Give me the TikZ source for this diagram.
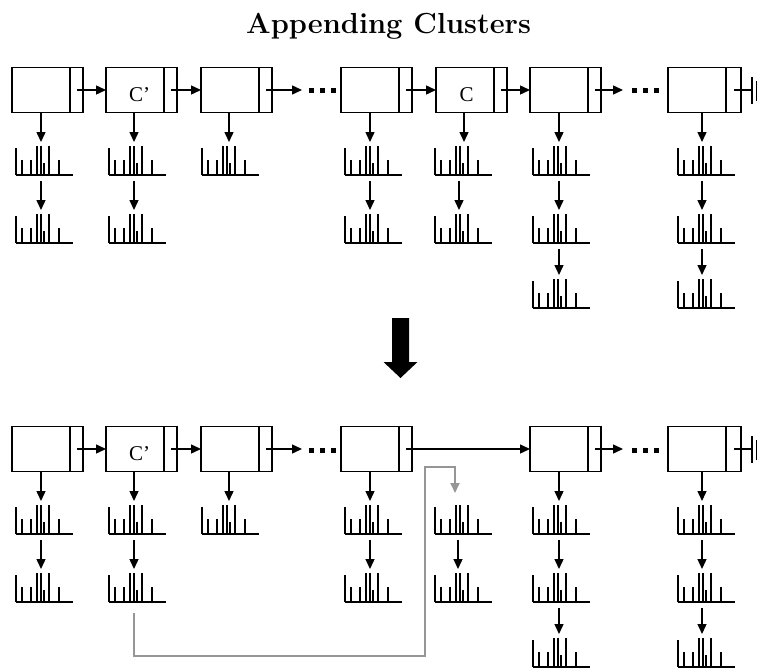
\documentclass[tikz,border=0pt]{standalone}
\usepackage{fontspec}
\newfontfamily\labfont{Liberation Serif}
\usetikzlibrary{arrows.meta,calc}
\definecolor{linkgray}{RGB}{150,150,150}
\tikzset{
  lw/.style={line width=1.4pt},
  lbox/.style={draw, lw, rectangle, inner sep=0pt, outer sep=0pt, minimum height=45pt, anchor=north west},
  specbox/.style={inner sep=0pt, outer sep=0pt, minimum width=57pt, minimum height=29pt, anchor=south west},
  specline/.style={line width=1.4pt},
  arr/.style={lw, -{Triangle[length=10pt,width=9pt]}},
  garr/.style={line width=1.8pt, draw=linkgray, -{Triangle[length=10pt,width=9pt]}},
  lab/.style={font=\labfont\fontsize{21}{21}\selectfont, inner sep=0pt, anchor=base},
  ttl/.style={font=\fontsize{29}{34}\selectfont\bfseries, inner sep=0pt, anchor=base},
}
\newcommand\LBox[5]{% name, x, y, width, compartment
  \node[lbox, minimum width=#4pt] (#1) at (#2,#3) {};
  \draw[lw] ($(#1.north east)+(-#5,0)$) -- ($(#1.south east)+(-#5,0)$);
}
\newcommand\Spec[3]{% name, left x, baseline y
  \node[specbox] (#1) at (#2,#3) {};
  \draw[specline] (#1.south west) -- (#1.south east)
    (#1.south west) -- ++(0,-27)
    ($(#1.south west)+(6,0)$) -- ++(0,-15)
    ($(#1.south west)+(15,0)$) -- ++(0,-15)
    ($(#1.south west)+(21,0)$) -- ++(0,-29)
    ($(#1.south west)+(25,0)$) -- ++(0,-29)
    ($(#1.south west)+(28,0)$) -- ++(0,-12)
    ($(#1.south west)+(33,0)$) -- ++(0,-29)
    ($(#1.south west)+(43,0)$) -- ++(0,-15);
}
\newcommand\BoxArr[3]{% box, spec, column coordinate
  \draw[arr] (#1.south -| #3) -- ($(#2.north -| #3)+(0,-4)$);
}
\newcommand\SpecArr[3]{% spec, spec, column coordinate
  \draw[arr] ($(#1.south -| #3)+(0,6)$) -- ($(#2.north -| #3)+(0,-4)$);
}
\newcommand\Dots[2]{% left x, centre y
  \fill (#1,#2-2.5) rectangle ++(5,5);
  \fill (#1+11,#2-2.5) rectangle ++(5,5);
  \fill (#1+22,#2-2.5) rectangle ++(5,5);
}
\begin{document}
\begin{tikzpicture}[x=1pt, y=-1pt]
\useasboundingbox (0,0) rectangle (758,669);

% column coordinates
\coordinate (a1) at (41,0);
\coordinate (a2) at (134,0);
\coordinate (a3) at (229,0);
\coordinate (a4) at (370,0);
\coordinate (a5) at (464,0);
\coordinate (a5b) at (459,0);
\coordinate (a6) at (559,0);
\coordinate (a7) at (702,0);

\node[ttl] (title) at (388.5,34) {Appending Clusters};

% ---------------- top ----------------
\LBox{t1}{12}{67.5}{71}{13}
\LBox{t2}{106}{67.5}{71}{13}
\LBox{t3}{201}{67.5}{71}{13}
\LBox{t4}{341}{67.5}{71}{13}
\LBox{t5}{436}{67.5}{71}{13}
\LBox{t6}{530}{67.5}{71}{13}
\LBox{t7}{668}{67.5}{73}{15}
\node[lab] (tl2) at (139.5,101) {C’};
\node[lab] (tl5) at (466.5,102) {C};

\draw[arr] ($(t1.east)+(-6,0)$) -- (t2.west);
\draw[arr] ($(t2.east)+(-6,0)$) -- (t3.west);
\coordinate (td1) at ($(t3.east)+(30,0)$);
\draw[arr] ($(t3.east)+(-6,0)$) -- (td1);
\Dots{309}{91}
\draw[arr] ($(t4.east)+(-6,0)$) -- (t5.west);
\draw[arr] ($(t5.east)+(-6,0)$) -- (t6.west);
\coordinate (td2) at ($(t6.east)+(22,0)$);
\draw[arr] ($(t6.east)+(-6,0)$) -- (td2);
\Dots{632}{91}
\coordinate (tg) at ($(t7.east)+(11,0)$);
\draw[lw] ($(t7.east)+(-7,0)$) -- (tg);
\draw[lw] ($(tg)+(0,-13)$) -- ($(tg)+(0,14)$);
\draw[lw] ($(tg)+(4.5,-9)$) -- ($(tg)+(4.5,11)$);

\Spec{ts11}{16}{175} \Spec{ts12}{16}{243}
\Spec{ts21}{109}{175} \Spec{ts22}{109}{243}
\Spec{ts31}{202}{175}
\Spec{ts41}{345}{175} \Spec{ts42}{345}{243}
\Spec{ts51}{435}{175} \Spec{ts52}{435}{243}
\Spec{ts61}{533}{175} \Spec{ts62}{533}{243} \Spec{ts63}{533}{308}
\Spec{ts71}{678}{175} \Spec{ts72}{678}{243} \Spec{ts73}{678}{308}

\BoxArr{t1}{ts11}{a1} \SpecArr{ts11}{ts12}{a1}
\BoxArr{t2}{ts21}{a2} \SpecArr{ts21}{ts22}{a2}
\BoxArr{t3}{ts31}{a3}
\BoxArr{t4}{ts41}{a4} \SpecArr{ts41}{ts42}{a4}
\BoxArr{t5}{ts51}{a5} \SpecArr{ts51}{ts52}{a5b}
\BoxArr{t6}{ts61}{a6} \SpecArr{ts61}{ts62}{a6} \SpecArr{ts62}{ts63}{a6}
\BoxArr{t7}{ts71}{a7} \SpecArr{ts71}{ts72}{a7} \SpecArr{ts72}{ts73}{a7}

% ---------------- big arrow ----------------
\fill (392,318) -- (409,318) -- (409,362) -- (417.5,362) -- (400.5,378) -- (383.5,362) -- (392,362) -- cycle;

% ---------------- bottom ----------------
\LBox{b1}{12}{426.5}{71}{13}
\LBox{b2}{106}{426.5}{71}{13}
\LBox{b3}{201}{426.5}{71}{13}
\LBox{b4}{341}{426.5}{71}{13}
\LBox{b6}{530}{426.5}{71}{13}
\LBox{b7}{668}{426.5}{73}{15}
\node[lab] (bl2) at (139.5,460) {C’};

\draw[arr] ($(b1.east)+(-6,0)$) -- (b2.west);
\draw[arr] ($(b2.east)+(-6,0)$) -- (b3.west);
\coordinate (bd1) at ($(b3.east)+(30,0)$);
\draw[arr] ($(b3.east)+(-6,0)$) -- (bd1);
\Dots{309}{450}
\draw[arr] ($(b4.east)+(-6,0)$) -- (b6.west);
\coordinate (bd2) at ($(b6.east)+(22,0)$);
\draw[arr] ($(b6.east)+(-6,0)$) -- (bd2);
\Dots{632}{450}
\coordinate (bg) at ($(b7.east)+(11,0)$);
\draw[lw] ($(b7.east)+(-7,0)$) -- (bg);
\draw[lw] ($(bg)+(0,-13)$) -- ($(bg)+(0,14)$);
\draw[lw] ($(bg)+(4.5,-9)$) -- ($(bg)+(4.5,11)$);

\Spec{bs11}{16}{534} \Spec{bs12}{16}{602}
\Spec{bs21}{109}{534} \Spec{bs22}{109}{602}
\Spec{bs31}{202}{534}
\Spec{bs41}{345}{534} \Spec{bs42}{345}{602}
\Spec{bs51}{435}{534} \Spec{bs52}{435}{602}
\Spec{bs61}{533}{534} \Spec{bs62}{533}{602} \Spec{bs63}{533}{667}
\Spec{bs71}{678}{534} \Spec{bs72}{678}{602} \Spec{bs73}{678}{667}

\BoxArr{b1}{bs11}{a1} \SpecArr{bs11}{bs12}{a1}
\BoxArr{b2}{bs21}{a2} \SpecArr{bs21}{bs22}{a2}
\BoxArr{b3}{bs31}{a3}
\BoxArr{b4}{bs41}{a4} \SpecArr{bs41}{bs42}{a4}
\coordinate (a5c) at (458,0);
\SpecArr{bs51}{bs52}{a5c}
\BoxArr{b6}{bs61}{a6} \SpecArr{bs61}{bs62}{a6} \SpecArr{bs62}{bs63}{a6}
\BoxArr{b7}{bs71}{a7} \SpecArr{bs71}{bs72}{a7} \SpecArr{bs72}{bs73}{a7}

% gray link
\coordinate (g1) at (134,656);
\coordinate (g2) at (425,656);
\coordinate (g3) at (425,467);
\coordinate (g4) at (455,467);
\draw[garr] ($(bs22.south -| g1)+(0,11)$) -- (g1) -- (g2) -- (g3) -- (g4) -- ($(bs51.north -| g4)+(0,-12)$);
\end{tikzpicture}
\end{document}
